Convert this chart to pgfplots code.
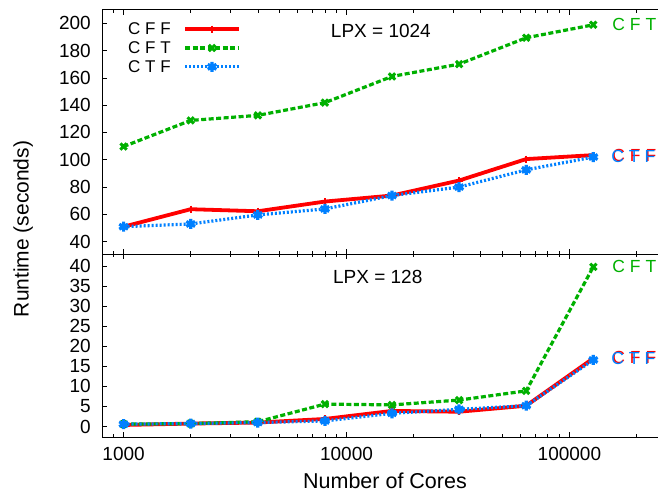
\documentclass[border=0pt]{standalone}
\usepackage{pgfplots}
\pgfplotsset{compat=1.18}
\usepackage{fontspec}
\setmainfont{Liberation Sans}

\definecolor{cff}{RGB}{255,0,0}
\definecolor{cft}{RGB}{0,176,0}
\definecolor{ctf}{RGB}{0,128,255}

\tikzset{
  cffline/.style={cff, line width=3.8pt, mark=+, mark size=3.5pt, mark options={solid, line width=2pt}},
  cftline/.style={cft, line width=3.2pt, dash pattern=on 5pt off 2.5pt, mark=x, mark size=4.5pt, mark options={solid, line width=3pt}},
  ctfline/.style={ctf, line width=3.2pt, dash pattern=on 2pt off 2pt, mark=asterisk, mark size=5pt, mark options={solid, line width=3.2pt}},
  endlabel/.style={anchor=west, inner sep=0pt, xshift=19pt, font=\fontsize{17.5}{21}\selectfont},
  lpx/.style={anchor=west, inner sep=0pt, font=\fontsize{19}{23}\selectfont},
}

\begin{document}
\begin{tikzpicture}[font=\fontsize{19}{23}\selectfont]
\path[use as bounding box] (0pt,0pt) rectangle (658pt,-496pt);

% upper panel, LPX = 1024
\begin{axis}[
  scale only axis,
  width=566pt, height=244.5pt,
  at={(102pt,-9.5pt)}, anchor=north west,
  xmode=log,
  xmin=800, xmax=277000,
  xtick={1000,10000,100000},
  minor xtick={900,2000,3000,4000,5000,6000,7000,8000,9000,20000,30000,40000,50000,60000,70000,80000,90000,200000},
  xticklabels={},
  ymin=31, ymax=210,
  ytick={40,60,...,200},
  ytick pos=left,
  axis line style={line width=0.8pt},
  tick style={black, line width=0.6pt},
  major tick length=5pt,
  minor tick length=3pt,
  tick align=inside,
  /pgf/number format/assume math mode=true,
  yticklabel style={xshift=-7.7pt},
  clip=false,
  legend plot pos=right,
  legend cell align=left,
  legend style={draw=none, fill=none, at={(0.0459,0.948)}, anchor=north west,
    inner sep=0pt, column sep=12.5pt, row sep=5.5pt,
    nodes={inner sep=0pt}, font=\fontsize{17}{20}\selectfont},
  legend image code/.code={\draw[mark repeat=2, mark phase=2] plot coordinates {(0pt,0pt) (27pt,0pt) (54pt,0pt)};},
]
\addplot[cffline] coordinates {
  (1000,51.0) (2000,63.8) (4000,62.3) (8000,69.4)
  (16000,73.8) (32000,84.8) (64000,100.5) (128000,103.4)
};
\addlegendentry{C F F}
\addplot[cftline] coordinates {
  (1000,109.7) (2000,128.8) (4000,132.5) (8000,141.8)
  (16000,161.0) (32000,170.0) (64000,189.3) (128000,198.8)
};
\addlegendentry{C F T}
\addplot[ctfline] coordinates {
  (1000,51.0) (2000,53.0) (4000,59.6) (8000,64.0)
  (16000,73.8) (32000,80.0) (64000,92.6) (128000,102.0)
};
\addlegendentry{C T F}
\node[endlabel, text=cft] at (axis cs:128000,198.8) {C F T};
\node[endlabel, text=cff] at (axis cs:128000,103.4) {C F F};
\node[endlabel, text=ctf, xshift=-1pt, yshift=-1.5pt] at (axis cs:128000,103.4) {C T F};
\node[lpx] at (axis cs:8500,194.6) {LPX = 1024};
\end{axis}

% lower panel, LPX = 128
\begin{axis}[
  scale only axis,
  width=566pt, height=183pt,
  at={(102pt,-254pt)}, anchor=north west,
  xmode=log,
  xmin=800, xmax=277000,
  xtick={1000,10000,100000},
  minor xtick={900,2000,3000,4000,5000,6000,7000,8000,9000,20000,30000,40000,50000,60000,70000,80000,90000,200000},
  xticklabels={1000,10000,100000},
  ymin=-2.6, ymax=43,
  ytick={0,5,...,40},
  ytick pos=left,
  axis line style={line width=0.8pt},
  tick style={black, line width=0.6pt},
  major tick length=5pt,
  minor tick length=3pt,
  tick align=inside,
  /pgf/number format/assume math mode=true,
  yticklabel style={xshift=-7.7pt},
  xticklabel style={yshift=-6.7pt},
  clip=false,
]
\addplot[cffline] coordinates {
  (1000,0.4) (2000,0.75) (4000,1.0) (8000,1.9)
  (16000,3.9) (32000,3.7) (64000,5.2) (128000,17.0)
};
\addplot[cftline] coordinates {
  (1000,0.6) (2000,0.75) (4000,1.2) (8000,5.6)
  (16000,5.4) (32000,6.6) (64000,8.9) (128000,39.8)
};
\addplot[ctfline] coordinates {
  (1000,0.6) (2000,0.75) (4000,1.0) (8000,1.4)
  (16000,3.3) (32000,4.3) (64000,5.2) (128000,16.6)
};
\node[endlabel, text=cft] at (axis cs:128000,39.8) {C F T};
\node[endlabel, text=cff] at (axis cs:128000,17.3) {C F F};
\node[endlabel, text=ctf, xshift=-1pt, yshift=-1.5pt] at (axis cs:128000,17.3) {C T F};
\node[lpx] at (axis cs:8690,37.3) {LPX = 128};
\end{axis}

\node[rotate=90, font=\fontsize{21}{25}\selectfont] at (23.3pt,-229pt) {Runtime (seconds)};
\node[font=\fontsize{21.5}{25}\selectfont] at (385pt,-481pt) {Number of Cores};
\end{tikzpicture}
\end{document}
